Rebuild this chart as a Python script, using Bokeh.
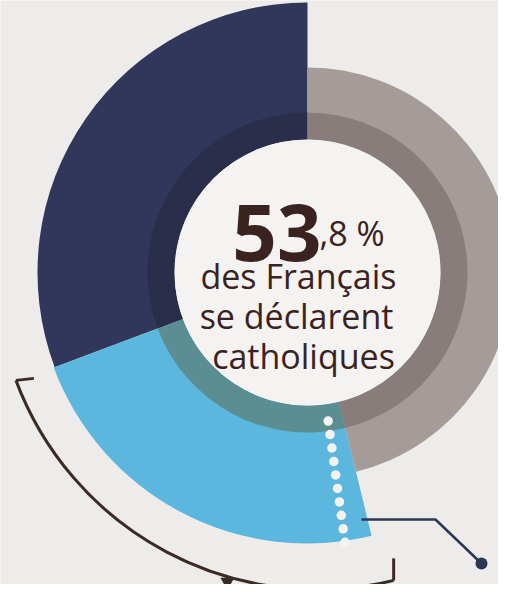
import numpy as np
from bokeh.plotting import figure
from bokeh.models import Range1d, ColumnDataSource
from bokeh.core.properties import value
from bokeh.embed import file_html
from bokeh.resources import INLINE

# ---- data ----
groups = ["Catholiques (1)", "Catholiques (2)", "Autres"]
shares = [30.7, 23.1, 46.2]          # % of the full circle
dotted_split = 21.5                  # position of the dotted line inside group 2 (%)
headline_int = "53"
headline_dec = ",8 %"
caption_lines = ["des Français", "se déclarent", "catholiques"]

# ---- styles ----
BG = "#edecea"
seg_colors = ["#30375a", "#5cb7de", "#a59c99"]
ring_colors = ["#2a2e4b", "#5b8e93", "#887d7a"]
seg_outer = [270, 271, 205]
INNER, RING = 133, 160
TXT = "#3a2220"
FONT = "Open Sans"

W, H = 498, 584
p = figure(width=W, height=H, x_range=Range1d(8, 8 + W), y_range=Range1d(8, 8 + H),
           output_backend="svg", toolbar_location=None, min_border=0)
p.axis.visible = False
p.grid.visible = False
p.outline_line_color = None
p.background_fill_color = BG
p.border_fill_color = BG

cx, cy = 315, 320
deg = np.cumsum([0] + shares) * 3.6 + 90
starts = np.radians(deg[:-1])
ends = np.radians(deg[1:])

src = ColumnDataSource(dict(group=groups, start=starts, end=ends, outer=seg_outer,
                            color=seg_colors, ring=ring_colors))
p.annular_wedge(x=cx, y=cy, inner_radius=INNER, outer_radius="outer",
                start_angle="start", end_angle="end", fill_color="color",
                line_color=None, source=src)
p.annular_wedge(x=cx, y=cy, inner_radius=INNER, outer_radius=RING,
                start_angle="start", end_angle="end", fill_color="ring",
                line_color=None, source=src)
p.circle(x=cx, y=cy, radius=INNER, fill_color="#f4f3f2", line_color=None)

# dotted white line inside group 2
a_dot = np.radians(90 + (shares[0] + dotted_split) * 3.6)
rs = np.arange(0, 10) * 13.6 + 150
p.scatter(x=cx + rs * np.cos(a_dot), y=cy + rs * np.sin(a_dot), size=9.5,
          fill_color="#f4f3f2", line_color=None)

# connector line with dot
p.line(x=[369, 443, 489], y=[73, 73, 29], line_color="#2c3754", line_width=2.5)
p.scatter(x=[489], y=[29], size=12, fill_color="#2c3754", line_color=None)

# bracket arc spanning group 2
bx, by, br = 325, 325, 322
a1, a2 = starts[1], ends[1]
p.arc(x=bx, y=by, radius=br, start_angle=a1, end_angle=a2,
      line_color="#3b2b24", line_width=3)
lx, ly = bx + br * np.cos(a1), by + br * np.sin(a1)
rx, ry = bx + br * np.cos(a2), by + br * np.sin(a2)
p.line(x=[lx, lx + 18], y=[ly, ly + 2], line_color="#3b2b24", line_width=3)
p.line(x=[rx, rx], y=[ry, ry + 22], line_color="#3b2b24", line_width=3)
ap = np.radians(254)
p.scatter(x=[bx + (br + 5) * np.cos(ap)], y=[by + (br + 5) * np.sin(ap)], marker="triangle",
          angle=np.pi, size=14, fill_color="#3b2b24", line_color=None)

# central text
p.text(x=[329], y=[360], text=[headline_int], text_font=value(FONT), text_font_size="78px",
       text_font_style="bold", text_color=TXT, text_align="right", text_baseline="alphabetic")
p.text(x=[327], y=[360], text=[headline_dec], text_font=value(FONT), text_font_size="34px",
       text_color=TXT, text_align="left", text_baseline="alphabetic")
p.text(x=[306, 304, 311], y=[317, 277, 237], text=caption_lines, text_font=value(FONT),
       text_font_size="34px", text_color=TXT, text_align="center", text_baseline="alphabetic")

open("out.html", "w").write(file_html(p, INLINE))
